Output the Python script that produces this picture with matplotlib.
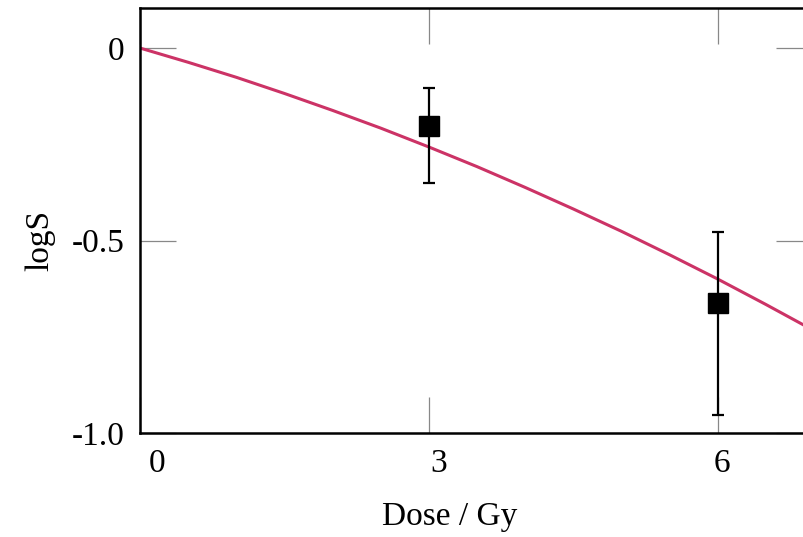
import numpy as np
import matplotlib
matplotlib.use("Agg")
import matplotlib.pyplot as plt
import matplotlib.transforms as mtransforms

# curve
dose_fit = [0, 0.5, 1, 1.5, 2, 2.5, 3, 3.5, 4, 4.5, 5, 5.5, 6, 6.5, 7]
logs_fit = [0, -0.037, -0.076, -0.118, -0.162, -0.208, -0.257, -0.308,
            -0.362, -0.418, -0.476, -0.537, -0.600, -0.666, -0.734]

# measured points with error bar ends
dose_pts = [3, 6]
logs_pts = [-0.203, -0.662]
logs_hi = [-0.104, -0.478]
logs_lo = [-0.351, -0.953]

xticks = [0, 3, 6]
yticks = [0, -0.5, -1.0]
ytick_labels = ["0", "-0.5", "-1.0"]

plt.rcParams['font.family'] = ['Liberation Serif', 'DejaVu Serif']

fig = plt.figure(figsize=(8.04, 5.37), dpi=100)
W, H = 804, 537
ax = fig.add_axes([140 / W, (H - 433) / H, 672 / W, 425 / H])

ax.plot(dose_fit, logs_fit, color='#cc3366', lw=2.2, zorder=2)

yerr = [np.array(logs_pts) - np.array(logs_lo), np.array(logs_hi) - np.array(logs_pts)]
ax.errorbar(dose_pts, logs_pts, yerr=yerr, fmt='s', color='black', ms=14,
            elinewidth=1.6, capsize=4.3, capthick=1.6, zorder=3)

ax.set_xlim(0, 6.98)
ax.set_ylim(-1.0, 0.104)
ax.set_xticks(xticks)
ax.set_xticklabels([str(t) for t in xticks])
ax.set_yticks(yticks)
ax.set_yticklabels(ytick_labels)

ax.tick_params(direction='in', length=26, width=0.9, color='#888888',
               labelsize=24, pad=11, top=True, right=True)

# the x labels sit a little to the right of their ticks in the original
shifts = [17, 10, 4]
for lab, dx in zip(ax.get_xticklabels(), shifts):
    lab.set_transform(lab.get_transform() +
                      mtransforms.ScaledTranslation(dx / 100, 0, fig.dpi_scale_trans))

for s in ax.spines.values():
    s.set_linewidth(1.8)
    s.set_color('black')

ax.set_xlabel("Dose / Gy", fontsize=24)
ax.set_ylabel("logS", fontsize=24)
ax.xaxis.set_label_coords(0.461, -0.198)
ax.xaxis.label.set_va('center')
ax.yaxis.set_label_coords(-0.149, 0.454)
ax.yaxis.label.set_va('center')

fig.savefig("out.png", dpi=100)
